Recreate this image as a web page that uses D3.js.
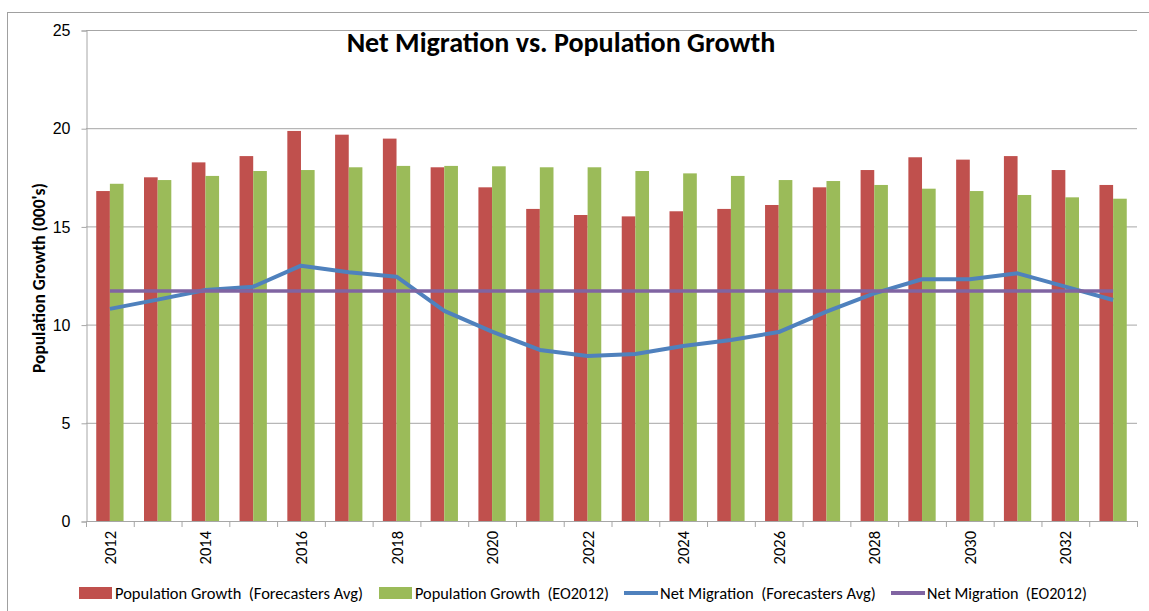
<!DOCTYPE html>
<html>
<head>
<meta charset="utf-8">
<script src="https://cdn.jsdelivr.net/npm/d3@7"></script>
<style>
  body { margin: 0; background: #fff; }
  svg { display: block; font-family: Calibri, Carlito, "Liberation Sans", Arial, sans-serif; }
</style>
</head>
<body>
<svg id="chart" width="1149" height="611"></svg>
<script>
// data
var years = d3.range(2012, 2034).map(String);
var popForecasters = [16.8, 17.5, 18.26, 18.58, 19.86, 19.67, 19.47, 18.01, 16.99, 15.89, 15.58,
                      15.51, 15.77, 15.89, 16.09, 16.99, 17.87, 18.52, 18.40, 18.58, 17.87, 17.11];
var popEO2012 = [17.17, 17.36, 17.57, 17.82, 17.87, 18.01, 18.08, 18.08, 18.06, 18.01, 18.01,
                 17.82, 17.70, 17.57, 17.36, 17.31, 17.11, 16.92, 16.80, 16.60, 16.48, 16.41];
var migForecasters = [10.8, 11.27, 11.76, 11.93, 13.0, 12.67, 12.44, 10.7, 9.64, 8.71, 8.40,
                      8.50, 8.91, 9.22, 9.62, 10.66, 11.59, 12.31, 12.31, 12.61, 11.93, 11.25];
var migEO2012 = years.map(function () { return 11.71; });
var yTicks = [0, 5, 10, 15, 20, 25];

var colors = { red: "#C0504D", green: "#9BBB59", blue: "#4F81BD", purple: "#8064A2", grid: "#A6A6A6" };

var svg = d3.select("#chart");

// scale a text's font size so it spans the given width
function sizeTo(sel, w) {
  var fs = +sel.attr("font-size");
  var len = sel.node().getComputedTextLength();
  if (len > 0) sel.attr("font-size", fs * w / len);
}

// outer chart border
svg.append("rect")
  .attr("x", 7.5).attr("y", 12.5).attr("width", 1160).attr("height", 640)
  .attr("fill", "none").attr("stroke", "#A0A0A0").attr("stroke-width", 1);

var plotLeft = 86, plotRight = 1137, plotTop = 30, plotBottom = 521;

var x = d3.scaleBand().domain(years).range([plotLeft, plotRight]).paddingInner(0).paddingOuter(0);
var xSub = d3.scaleBand().domain(["fa", "eo"]).range([0, x.bandwidth()]).paddingInner(0).paddingOuter(0.75);
var y = d3.scaleLinear().domain([0, 25]).range([plotBottom, plotTop]);

// gridlines
svg.append("g").selectAll("line").data(yTicks.filter(function (d) { return d > 0; }))
  .join("line")
  .attr("x1", plotLeft).attr("x2", plotRight)
  .attr("y1", function (d) { return y(d) + 0.5; }).attr("y2", function (d) { return y(d) + 0.5; })
  .attr("stroke", colors.grid).attr("stroke-width", 1);

// y axis
var yAxis = svg.append("g").attr("transform", "translate(" + (plotLeft + 0.5) + ",0.5)")
  .call(d3.axisLeft(y).tickValues(yTicks).tickSize(5).tickPadding(11));
yAxis.select(".domain").attr("stroke", colors.grid);
yAxis.selectAll(".tick line").attr("stroke", colors.grid);
yAxis.selectAll("text").attr("font-size", 16).attr("fill", "#000").attr("font-family", null);

// x axis: ticks at category boundaries
var xg = svg.append("g");
xg.append("line").attr("x1", plotLeft).attr("x2", plotRight)
  .attr("y1", plotBottom + 0.5).attr("y2", plotBottom + 0.5)
  .attr("stroke", colors.grid);
xg.selectAll("line.tk").data(years.concat(["end"]))
  .join("line").attr("class", "tk")
  .attr("x1", function (d, i) { return plotLeft + i * x.step() + 0.5; })
  .attr("x2", function (d, i) { return plotLeft + i * x.step() + 0.5; })
  .attr("y1", plotBottom).attr("y2", plotBottom + 6)
  .attr("stroke", colors.grid);
xg.selectAll("text").data(years.filter(function (d, i) { return i % 2 === 0; }))
  .join("text")
  .attr("transform", function (d) {
    return "translate(" + (x(d) + x.bandwidth() / 2 + 6) + "," + (plotBottom + 10) + ") rotate(-90)";
  })
  .attr("text-anchor", "end")
  .attr("font-size", 16.5)
  .text(function (d) { return d; });

// bars
var groups = svg.append("g").selectAll("g").data(years).join("g")
  .attr("transform", function (d) { return "translate(" + x(d) + ",0)"; });
groups.append("rect")
  .attr("x", xSub("fa")).attr("width", xSub.bandwidth())
  .attr("y", function (d, i) { return y(popForecasters[i]); })
  .attr("height", function (d, i) { return y(0) - y(popForecasters[i]); })
  .attr("fill", colors.red);
groups.append("rect")
  .attr("x", xSub("eo")).attr("width", xSub.bandwidth())
  .attr("y", function (d, i) { return y(popEO2012[i]); })
  .attr("height", function (d, i) { return y(0) - y(popEO2012[i]); })
  .attr("fill", colors.green);

// lines
var line = d3.line()
  .x(function (d, i) { return x(years[i]) + x.bandwidth() / 2; })
  .y(function (d) { return y(d); });
svg.append("path").datum(migForecasters).attr("d", line)
  .attr("fill", "none").attr("stroke", colors.blue).attr("stroke-width", 4).attr("stroke-linejoin", "round");
svg.append("path").datum(migEO2012).attr("d", line)
  .attr("fill", "none").attr("stroke", colors.purple).attr("stroke-width", 3.5);

// title
var title = svg.append("text")
  .attr("x", 561).attr("y", 52).attr("text-anchor", "middle")
  .attr("font-size", 25).attr("font-weight", "bold")
  .text("Net Migration vs. Population Growth");
sizeTo(title, 429);

// y axis title
var yTitle = svg.append("text")
  .attr("transform", "translate(45,278) rotate(-90)")
  .attr("text-anchor", "middle").attr("font-size", 13).attr("font-weight", "bold")
  .text("Population Growth (000's)");
sizeTo(yTitle, 190);

// legend
var legendItems = [
  { label: "Population Growth  (Forecasters Avg)", color: colors.red, kind: "bar", x: 79, w: 248 },
  { label: "Population Growth  (EO2012)", color: colors.green, kind: "bar", x: 379, w: 194 },
  { label: "Net Migration  (Forecasters Avg)", color: colors.blue, kind: "line", x: 624, w: 216 },
  { label: "Net Migration  (EO2012)", color: colors.purple, kind: "line", x: 891, w: 160 }
];
var lg = svg.append("g").selectAll("g").data(legendItems).join("g")
  .attr("transform", function (d) { return "translate(" + d.x + ",593)"; });
lg.each(function (d) {
  var g = d3.select(this);
  if (d.kind === "bar") {
    g.append("rect").attr("x", 0).attr("y", -6).attr("width", 33).attr("height", 12).attr("fill", d.color);
  } else {
    g.append("line").attr("x1", 0).attr("x2", 34).attr("y1", 0).attr("y2", 0)
      .attr("stroke", d.color).attr("stroke-width", 4);
  }
  var t = g.append("text").attr("x", 36).attr("y", 5.5).attr("font-size", 14)
    .attr("xml:space", "preserve").style("white-space", "pre").text(d.label);
  sizeTo(t, d.w);
});
</script>
</body>
</html>
